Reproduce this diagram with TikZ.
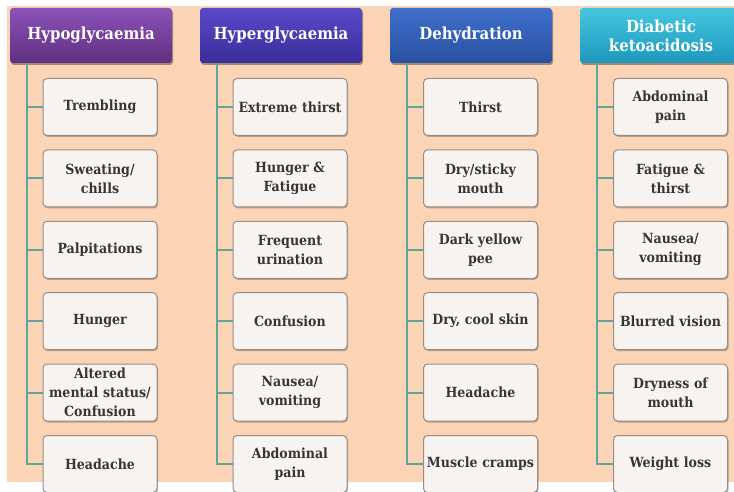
\documentclass[tikz,border=0pt]{standalone}
\usepackage{fontspec}
\setmainfont{DejaVu Serif Condensed}
\usetikzlibrary{shadows}
\definecolor{peach}{HTML}{FBD4B6}
\definecolor{boxfill}{HTML}{F6F3F1}
\definecolor{boxedge}{HTML}{9A8C84}
\definecolor{boxtext}{HTML}{383634}
\definecolor{spine}{HTML}{64A399}
\definecolor{hypoT}{HTML}{8C52B8}
\definecolor{hypoB}{HTML}{5F2F80}
\definecolor{hyperT}{HTML}{5A4ACB}
\definecolor{hyperB}{HTML}{3A2C98}
\definecolor{dehT}{HTML}{3F6FCC}
\definecolor{dehB}{HTML}{28509F}
\definecolor{dkaT}{HTML}{45C6E0}
\definecolor{dkaB}{HTML}{1E98BC}
\begin{document}
\begin{tikzpicture}[x=1pt,y=-1pt,
  hdr/.style={rounded corners=3pt, minimum width=162pt, minimum height=55pt,
    text=white, font=\bfseries\fontsize{16.6}{19}\selectfont, align=center, inner sep=0pt,
    drop shadow={shadow xshift=1pt, shadow yshift=-2pt, fill=black, opacity=0.35}},
  item/.style={draw=boxedge, line width=1pt, fill=boxfill, rounded corners=4pt,
    minimum width=114pt, minimum height=57pt, text width=112pt, align=center,
    font=\bfseries\fontsize{14}{19}\selectfont, text=boxtext, inner sep=0pt,
    drop shadow={shadow xshift=1pt, shadow yshift=-1.5pt, fill=black, opacity=0.25}},
  conn/.style={draw=spine, line width=1.8pt}]
\useasboundingbox (0,0) rectangle (734,492);
\clip (0,0) rectangle (734,492);
\fill[white] (0,0) rectangle (734,492);
\fill[peach] (7,6) rectangle (734,482);

% headers
\node[hdr, top color=hypoT, bottom color=hypoB] (H1) at (91,35.5) {Hypoglycaemia};
\node[hdr, top color=hyperT, bottom color=hyperB] (H2) at (281,35.5) {Hyperglycaemia};
\node[hdr, top color=dehT, bottom color=dehB] (H3) at (471,35.5) {Dehydration};
\node[hdr, top color=dkaT, bottom color=dkaB] (H4) at (661,35.5) {Diabetic\\ketoacidosis};

\foreach \h in {1,2,3,4} \coordinate (S\h) at ([xshift=17pt]H\h.south west);

% column 1
\foreach \t [count=\i] in {Trembling, {Sweating/\\chills}, Palpitations, Hunger,
  {Altered\\mental status/\\Confusion}, Headache}
  \node[item] (A\i) at (100, 107+71.4*\i-71.4) {\t};
% column 2
\foreach \t [count=\i] in {Extreme thirst, {Hunger \&\\Fatigue}, {Frequent\\urination}, Confusion,
  {Nausea/\\vomiting}, {Abdominal\\pain}}
  \node[item] (B\i) at (290, 107+71.4*\i-71.4) {\t};
% column 3
\foreach \t [count=\i] in {Thirst, {Dry/sticky\\mouth}, {Dark yellow\\pee}, {Dry, cool skin},
  Headache, Muscle cramps}
  \node[item] (C\i) at (480.5, 107+71.4*\i-71.4) {\t};
% column 4
\foreach \t [count=\i] in {{Abdominal\\pain}, {Fatigue \&\\thirst}, {Nausea/\\vomiting}, Blurred vision,
  {Dryness of\\mouth}, Weight loss}
  \node[item] (D\i) at (670.5, 107+71.4*\i-71.4) {\t};

% connectors
\draw[conn] (S1) |- (A6.west);
\draw[conn] (S2) |- (B6.west);
\draw[conn] (S3) |- (C6.west);
\draw[conn] (S4) |- (D6.west);
\foreach \i in {1,...,5} {
  \draw[conn] (A\i.west) -- (A\i.west -| S1);
  \draw[conn] (B\i.west) -- (B\i.west -| S2);
  \draw[conn] (C\i.west) -- (C\i.west -| S3);
  \draw[conn] (D\i.west) -- (D\i.west -| S4);
}
\end{tikzpicture}
\end{document}
